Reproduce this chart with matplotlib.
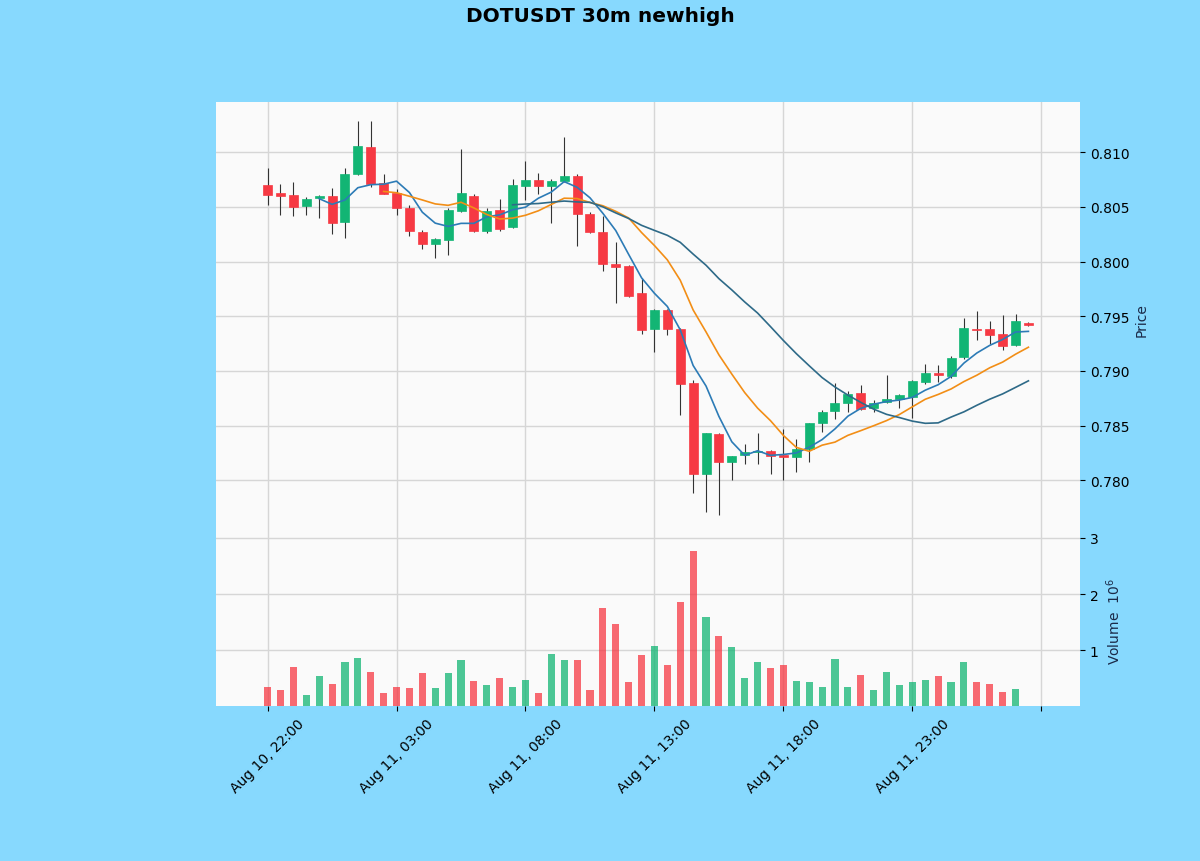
import numpy as np
import pandas as pd
import matplotlib
matplotlib.use("Agg")
import matplotlib.pyplot as plt

# 30m candles, DOTUSDT
start = "2023-08-10 22:00"
opens = [0.8070, 0.8063, 0.8061, 0.8051, 0.8058, 0.8060, 0.8036, 0.8080, 0.8105, 0.8072,
         0.8063, 0.8049, 0.8027, 0.8016, 0.8020, 0.8046, 0.8060, 0.8028, 0.8047, 0.8032,
         0.8069, 0.8075, 0.8069, 0.8074, 0.8078, 0.8044, 0.8027, 0.7998, 0.7996, 0.7971,
         0.7938, 0.7956, 0.7938, 0.7889, 0.7806, 0.7842, 0.7817, 0.7823, 0.7826, 0.7827,
         0.7823, 0.7821, 0.7829, 0.7852, 0.7863, 0.7871, 0.7880, 0.7866, 0.7872, 0.7874,
         0.7876, 0.7890, 0.7898, 0.7895, 0.7913, 0.7938, 0.7938, 0.7934, 0.7924, 0.7944]
highs = [0.8086, 0.8071, 0.8073, 0.8059, 0.8061, 0.8067, 0.8086, 0.8129, 0.8129, 0.8080,
         0.8066, 0.8052, 0.8029, 0.8022, 0.8049, 0.8103, 0.8062, 0.8049, 0.8057, 0.8076,
         0.8092, 0.8081, 0.8076, 0.8114, 0.8080, 0.8045, 0.8042, 0.8018, 0.7997, 0.7985,
         0.7957, 0.7957, 0.7939, 0.7892, 0.7843, 0.7843, 0.7822, 0.7833, 0.7843, 0.7828,
         0.7847, 0.7838, 0.7852, 0.7864, 0.7889, 0.7882, 0.7887, 0.7873, 0.7896, 0.7879,
         0.7892, 0.7906, 0.7905, 0.7914, 0.7948, 0.7955, 0.7946, 0.7951, 0.7952, 0.7945]
lows = [0.8052, 0.8043, 0.8042, 0.8043, 0.8040, 0.8025, 0.8022, 0.8079, 0.8068, 0.8062,
        0.8043, 0.8023, 0.8012, 0.8003, 0.8006, 0.8045, 0.8027, 0.8026, 0.8028, 0.8031,
        0.8056, 0.8062, 0.8035, 0.8073, 0.8014, 0.8026, 0.7991, 0.7962, 0.7968, 0.7934,
        0.7917, 0.7933, 0.7860, 0.7788, 0.7771, 0.7768, 0.7800, 0.7815, 0.7815, 0.7806,
        0.7800, 0.7808, 0.7817, 0.7844, 0.7856, 0.7862, 0.7864, 0.7862, 0.7871, 0.7866,
        0.7857, 0.7888, 0.7890, 0.7894, 0.7911, 0.7928, 0.7925, 0.7919, 0.7923, 0.7941]
closes = [0.8061, 0.8060, 0.8050, 0.8057, 0.8060, 0.8035, 0.8080, 0.8106, 0.8071, 0.8062,
          0.8049, 0.8028, 0.8016, 0.8021, 0.8047, 0.8063, 0.8028, 0.8046, 0.8030, 0.8070,
          0.8075, 0.8069, 0.8074, 0.8078, 0.8044, 0.8027, 0.7998, 0.7995, 0.7969, 0.7937,
          0.7956, 0.7938, 0.7888, 0.7806, 0.7843, 0.7817, 0.7822, 0.7826, 0.7827, 0.7822,
          0.7821, 0.7829, 0.7852, 0.7862, 0.7871, 0.7879, 0.7865, 0.7871, 0.7874, 0.7878,
          0.7891, 0.7898, 0.7896, 0.7912, 0.7939, 0.7937, 0.7933, 0.7923, 0.7946, 0.7942]
volumes = [340000, 290000, 700000, 205000, 540000, 400000, 800000, 870000, 620000, 235000,
           350000, 330000, 600000, 330000, 600000, 820000, 450000, 375000, 500000, 345000,
           470000, 240000, 930000, 830000, 830000, 290000, 1750000, 1460000, 430000, 910000,
           1080000, 730000, 1860000, 2770000, 1590000, 1250000, 1065000, 500000, 800000, 690000,
           730000, 450000, 440000, 345000, 850000, 345000, 560000, 290000, 610000, 380000,
           440000, 470000, 540000, 440000, 800000, 440000, 400000, 260000, 320000, 8000]
mav = (5, 10, 20)

df = pd.DataFrame({"Open": opens, "High": highs, "Low": lows, "Close": closes,
                   "Volume": volumes},
                  index=pd.date_range(start, periods=len(closes), freq="30min"))

up_col = "#12b574"
down_col = "#f63943"
mav_colors = ["#2c7bb6", "#f28e16", "#2e6a88"]
bg = "#87d9fe"

fig = plt.figure(figsize=(12, 8.62), dpi=100, facecolor=bg)
ax = fig.add_axes([0.18, 0.377, 0.72, 0.5035])
axv = fig.add_axes([0.18, 0.1798, 0.72, 0.1972], sharex=ax)

x = np.arange(len(df))
o, h, l, c = df.Open.values, df.High.values, df.Low.values, df.Close.values
up = c >= o
colors = np.where(up, up_col, down_col)

for a in (ax, axv):
    a.set_facecolor("#fafafa")
    a.grid(True, color="#d6d6d6", linewidth=1.0)
    a.set_axisbelow(True)
    for s in a.spines.values():
        s.set_visible(False)
    a.yaxis.tick_right()
    a.yaxis.set_label_position("right")

# candles: wicks behind bodies
ax.vlines(x, l, h, color="#333333", linewidth=0.8, zorder=2)
body_h = np.maximum(np.abs(c - o), 0.00005)
ax.bar(x, body_h, bottom=np.minimum(o, c), width=0.7, color=colors,
       edgecolor=colors, linewidth=0.5, zorder=3)

# moving averages
for n, col in zip(mav, mav_colors):
    ma = df.Close.rolling(n).mean()
    ax.plot(x, ma.values, color=col, linewidth=1.2, zorder=4)

ax.set_ylim(0.7749, 0.8146)
ax.set_yticks(np.arange(0.780, 0.8101, 0.005))
ax.yaxis.set_major_formatter(matplotlib.ticker.FormatStrFormatter("%.3f"))
ax.set_ylabel("Price", color="#1b2a48", fontsize=10)
plt.setp(ax.get_xticklabels(), visible=False)
ax.tick_params(axis="x", length=0)

# volume panel
axv.bar(x, df.Volume.values / 1e6, width=0.55, color=colors, alpha=0.75, zorder=3)
axv.set_ylim(0.01, 3.03)
axv.set_yticks([1, 2, 3])
axv.set_ylabel("Volume  $10^{6}$", color="#1b2a48", fontsize=10)

ax.set_xlim(-4, 63)
ticks = np.arange(0, 61, 10)
labels = [df.index[t].strftime("%b %d, %H:%M") if t < len(df) else "" for t in ticks]
axv.set_xticks(ticks)
axv.set_xticklabels(labels, rotation=45, fontsize=10)

fig.suptitle("DOTUSDT 30m newhigh", fontsize=14.5, fontweight="bold", y=0.992)

fig.savefig("out.png", dpi=100, facecolor=bg)
